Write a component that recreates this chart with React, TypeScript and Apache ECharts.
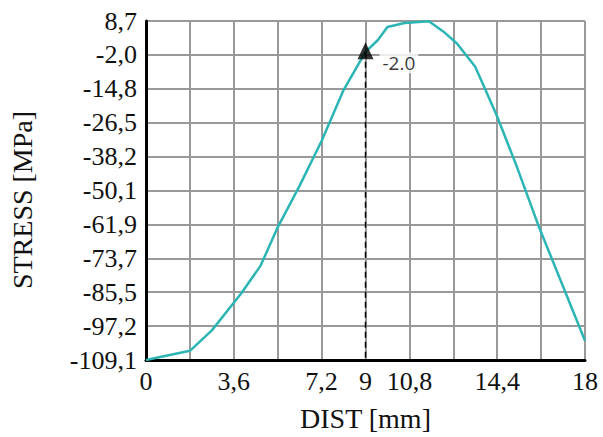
import React, { useEffect, useRef } from "react";
import * as echarts from "echarts";

// x tick labels by grid index (interval 1.8 mm)
const xTickLabels = ["0", "", "3,6", "", "7,2", "9", "10,8", "", "14,4", "", "18"];
// y tick labels, bottom to top
const yTickLabels = ["-109,1", "-97,2", "-85,5", "-73,7", "-61,9", "-50,1", "-38,2", "-26,5", "-14,8", "-2,0", "8,7"];

const distValues = [0, 1.8, 2.7, 3.9, 4.7, 5.4, 6.3, 7.2, 8.1, 9.0, 9.5, 9.9, 10.6, 11.6, 12.2, 12.75, 13.5, 14.4, 15.2, 16.1, 18];
const stressValues = [-109.1, -105.9, -98.8, -86.0, -76.3, -63.0, -48.5, -33.0, -15.3, -2.0, 2.0, 6.6, 8.0, 8.6, 5.0, 0.9, -7.2, -24.5, -41.8, -62.6, -102.4];

const markerDist = 9;
const markerStress = -2.0;
const markerLabel = "-2.0";

const yMin = -109.1;
const yMax = 8.7;

export default function App() {
  const ref = useRef<HTMLDivElement>(null);
  useEffect(() => {
    document.body.style.margin = "0";
    const chart = echarts.init(ref.current!, null, { renderer: "svg" });
    const serif = "Liberation Serif";
    chart.setOption({
      animation: false,
      backgroundColor: "#ffffff",
      grid: { left: 146, right: 18, top: 21, bottom: 76 },
      xAxis: {
        type: "value",
        min: 0,
        max: 18,
        interval: 1.8,
        name: "DIST [mm]",
        nameLocation: "middle",
        nameGap: 44,
        nameTextStyle: { fontFamily: serif, fontSize: 28, color: "#111" },
        axisLine: { show: true, onZero: false, lineStyle: { color: "#000", width: 3 } },
        axisTick: { show: false },
        axisLabel: {
          fontFamily: serif,
          fontSize: 26,
          color: "#111",
          margin: 8,
          formatter: (v: number) => xTickLabels[Math.round(v / 1.8)] ?? "",
        },
        splitLine: { show: true, lineStyle: { color: "#999", width: 2 } },
      },
      yAxis: [
        {
          type: "category",
          data: yTickLabels,
          boundaryGap: false,
          axisLine: { show: true, onZero: false, lineStyle: { color: "#000", width: 3 } },
          axisTick: { show: false },
          axisLabel: { fontFamily: serif, fontSize: 26, color: "#111", margin: 9, interval: 0 },
          splitLine: { show: true, interval: 0, lineStyle: { color: "#999", width: 2 } },
        },
        {
          type: "value",
          min: yMin,
          max: yMax,
          show: false,
          axisLine: { onZero: false },
          splitLine: { show: false },
        },
      ],
      graphic: [
        {
          type: "text",
          x: 22,
          y: 200,
          rotation: Math.PI / 2,
          style: {
            text: "STRESS [MPa]",
            fontFamily: serif,
            fontSize: 28,
            fill: "#111",
            align: "center",
            verticalAlign: "middle",
          },
        },
      ],
      series: [
        {
          type: "line",
          yAxisIndex: 1,
          data: distValues.map((d, i) => [d, stressValues[i]]),
          showSymbol: false,
          lineStyle: { color: "#2cb5b5", width: 2.5 },
          z: 3,
        },
        {
          type: "line",
          yAxisIndex: 1,
          data: [
            [markerDist, markerStress],
            [markerDist, yMin],
          ],
          showSymbol: false,
          lineStyle: { color: "#000", width: 1.5, type: [6, 4] },
          z: 4,
        },
        {
          type: "scatter",
          yAxisIndex: 1,
          data: [[markerDist, markerStress]],
          symbol: "triangle",
          symbolSize: [16, 17],
          symbolOffset: [0, -1],
          itemStyle: { color: "#000" },
          label: {
            show: true,
            position: "right",
            distance: 6,
            offset: [0, 12],
            formatter: () => markerLabel,
            fontFamily: "Open Sans",
            fontSize: 19,
            color: "#000",
            backgroundColor: "#fff",
            padding: [1, 3],
          },
          z: 5,
        },
      ],
    });
    return () => chart.dispose();
  }, []);
  return <div ref={ref} style={{ width: 603, height: 437 }} />;
}
